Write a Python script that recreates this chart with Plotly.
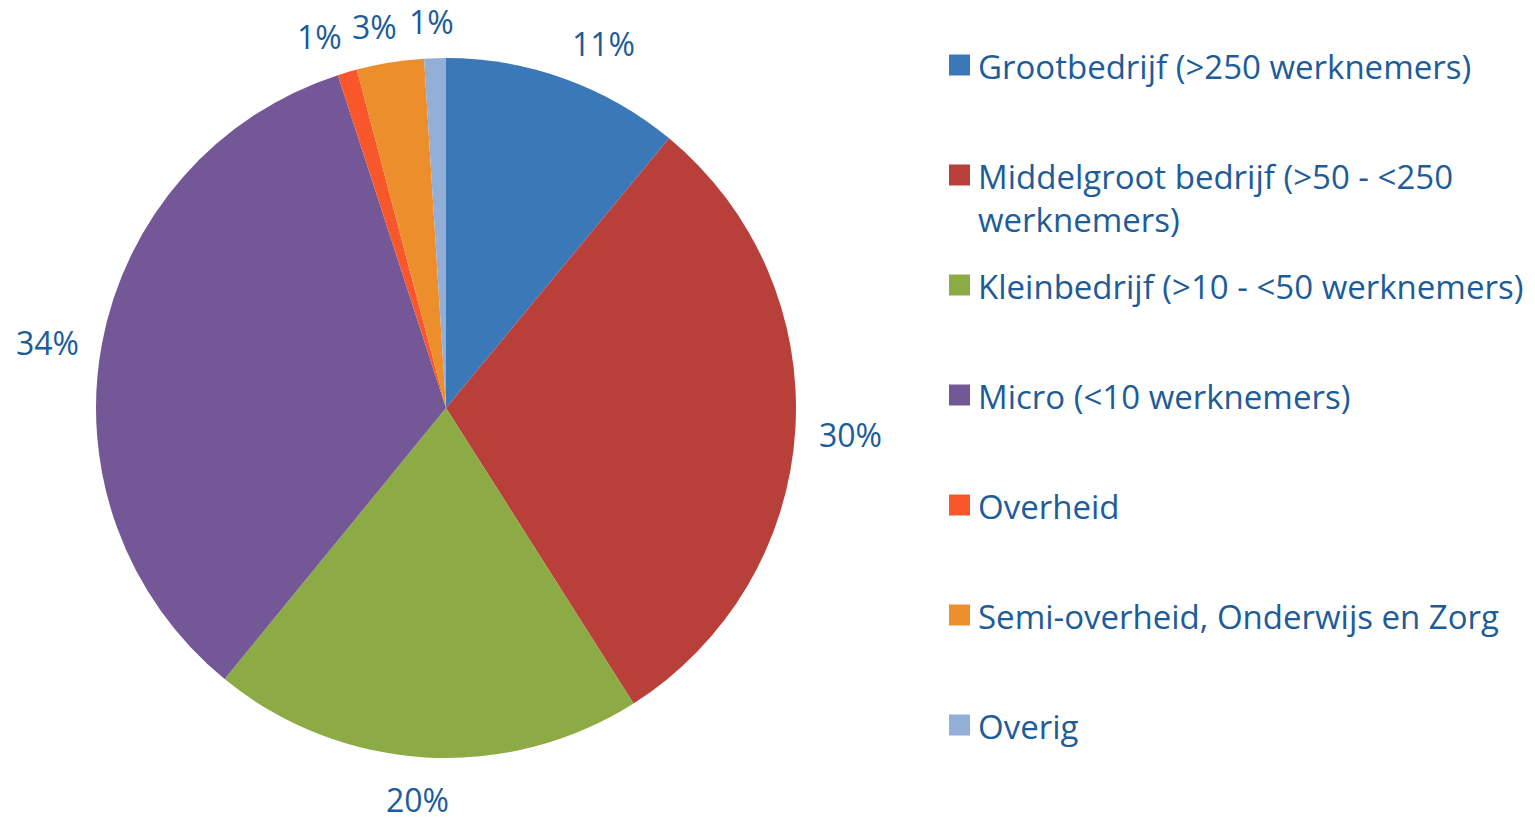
import math
import plotly.graph_objects as go

# ---- data ----
categories = [
    "Grootbedrijf (>250 werknemers)",
    "Middelgroot bedrijf (>50 - <250 werknemers)",
    "Kleinbedrijf (>10 - <50 werknemers)",
    "Micro (<10 werknemers)",
    "Overheid",
    "Semi-overheid, Onderwijs en Zorg",
    "Overig",
]
legend_labels = [
    "Grootbedrijf (>250 werknemers)",
    "Middelgroot bedrijf (>50 - <250<br>werknemers)",
    "Kleinbedrijf (>10 - <50 werknemers)",
    "Micro (<10 werknemers)",
    "Overheid",
    "Semi-overheid, Onderwijs en Zorg",
    "Overig",
]
values = [11.0, 30.0, 19.9, 34.1, 0.9, 3.1, 1.0]
colors = ["#3b78b8", "#b9403a", "#8cab44", "#745796", "#f7572a", "#ec8e2c", "#93afd8"]

# ---- layout constants (page has an 8px body margin) ----
OFF = 8
W, H = 1535 - OFF, 818 - OFF
CX, CY, R = 446 - OFF, 408 - OFF, 350
LABEL_R = 374
FONT = "'Open Sans', 'Noto Sans', sans-serif"
TEXT_COLOR = "#1d5c99"
PCT_SIZE = 32
LEG_SIZE = 33

fig = go.Figure()
fig.add_trace(go.Pie(
    labels=categories,
    values=values,
    sort=False,
    direction="clockwise",
    rotation=0,
    marker=dict(colors=colors, line=dict(width=0)),
    textinfo="none",
    hoverinfo="label+percent",
    showlegend=False,
    domain=dict(x=[(CX - R) / W, (CX + R) / W], y=[1 - (CY + R) / H, 1 - (CY - R) / H]),
))

annotations = []
shapes = []


def clamp(v):
    return max(-1.0, min(1.0, v))


# percentage labels around the pie (positions derived from the values)
total = sum(values)
cum = 0.0
for v in values:
    mid = 2 * math.pi * (cum + v / 2) / total
    cum += v
    s, c = math.sin(mid), math.cos(mid)
    px = CX + LABEL_R * s
    py = CY - LABEL_R * c
    txt = f"{round(100 * v / total):d}%"
    tw = PCT_SIZE * (0.56 * (len(txt) - 1) + 0.82)
    th = PCT_SIZE * 0.95
    yf = clamp((abs(c) - 0.2) / 0.3) if abs(c) > 0.2 else 0.0
    yf = yf if c >= 0 else -yf
    annotations.append(dict(
        x=px / W, y=1 - py / H, xref="paper", yref="paper",
        text=txt, showarrow=False,
        xanchor="center", yanchor="middle",
        xshift=tw / 2 * clamp(s / 0.3), yshift=th / 2 * yf - 3,
        font=dict(family=FONT, size=PCT_SIZE, color=TEXT_COLOR),
    ))

# manual legend
LEG_X0 = 949 - OFF
LEG_Y0 = 65 - OFF
LEG_STEP = 110
SQ = 21
for i, (lab, col) in enumerate(zip(legend_labels, colors)):
    yc = LEG_Y0 + i * LEG_STEP
    shapes.append(dict(
        type="rect", xref="paper", yref="paper",
        x0=LEG_X0 / W, x1=(LEG_X0 + SQ) / W,
        y0=1 - (yc + SQ / 2) / H, y1=1 - (yc - SQ / 2) / H,
        fillcolor=col, line=dict(width=0),
    ))
    annotations.append(dict(
        x=(976 - OFF) / W, y=1 - (yc - 23) / H, xref="paper", yref="paper",
        text=lab, showarrow=False, xanchor="left", yanchor="top", align="left",
        font=dict(family=FONT, size=LEG_SIZE, color=TEXT_COLOR),
    ))

fig.update_layout(
    width=W, height=H,
    margin=dict(l=0, r=0, t=0, b=0),
    paper_bgcolor="white",
    plot_bgcolor="white",
    annotations=annotations,
    shapes=shapes,
)

fig.write_html("out.html")
